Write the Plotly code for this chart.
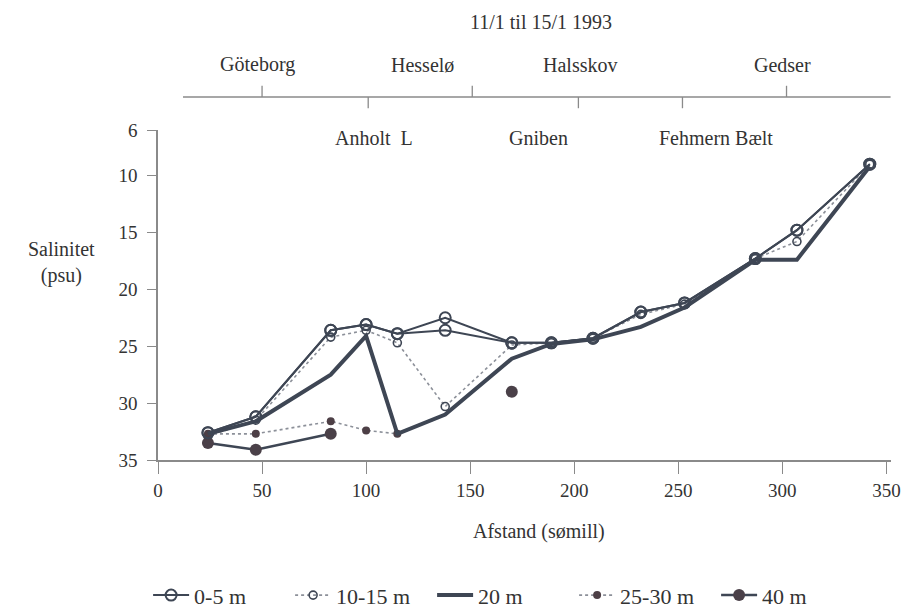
import plotly.graph_objects as go

# ---------------- data ----------------
dist = [24, 47, 83, 100, 115, 138, 170, 189, 209, 232, 253, 287, 307, 342]

sal_0m = [32.6, 31.2, 23.6, 23.1, 23.9, 22.5, 24.7, 24.7, 24.3, 22.0, 21.2, 17.3, 14.8, 9.0]
sal_5m = [32.6, 31.2, 23.6, 23.1, 23.9, 23.6, 24.7, 24.7, 24.3, 22.0, 21.2, 17.3, 14.8, 9.0]
sal_10_15 = [32.9, 31.5, 24.2, 23.6, 24.7, 30.3, 24.9, 24.7, 24.3, 22.2, 21.3, 17.3, 15.8, 9.0]
sal_20 = [32.7, 31.6, 27.5, 24.1, 32.7, 31.0, 26.1, 24.8, 24.4, 23.3, 21.6, 17.4, 17.4, 9.2]
sal_25_30 = [32.7, 32.7, 31.6, 32.4, 32.7, None, None, None, None, None, None, None, None, None]
sal_40 = [33.5, 34.1, 32.7, None, None, None, 29.0, None, None, None, None, None, None, None]

series_names = ["0-5 m", "10-15 m", "20 m", "25-30 m", "40 m"]

x_ticks = [0, 50, 100, 150, 200, 250, 300, 350]
y_ticks = [6, 10, 15, 20, 25, 30, 35]

# stations on the top scale
top_line_span = [12, 352]
top_tick_x = [50, 101, 151, 202, 252, 302]
top_tick_up = [True, False, True, False, False, True]
upper_names = ["Göteborg", "Hesselø", "Halsskov", "Gedser"]
upper_x = [48, 127, 203, 300]
lower_names = ["Anholt  L", "Gniben", "Fehmern Bælt"]
lower_x = [104, 183, 268]

title_text = "11/1 til 15/1 1993"
x_title = "Afstand (sømill)"
y_title = "Salinitet<br>(psu)"

# ---------------- styles ----------------
INK = "#3e4654"
DOT = "#8c9099"
AXIS = "#8a8a8a"
TXT = "#333333"
FONT = "Liberation Serif"

fig = go.Figure()

fig.add_trace(go.Scatter(
    x=dist, y=sal_10_15, name=series_names[1], mode="lines+markers", legendrank=2,
    line=dict(color=DOT, width=1.6, dash="dot"),
    marker=dict(symbol="circle-open", size=8, color=INK, line=dict(width=1.6)),
))
fig.add_trace(go.Scatter(
    x=dist, y=sal_25_30, name=series_names[3], mode="lines+markers", legendrank=4,
    line=dict(color=DOT, width=1.6, dash="dot"),
    marker=dict(symbol="circle", size=8, color="#4d3f46"),
))
fig.add_trace(go.Scatter(
    x=dist, y=sal_20, name=series_names[2], mode="lines", legendrank=3,
    line=dict(color=INK, width=4),
))
fig.add_trace(go.Scatter(
    x=dist, y=sal_40, name=series_names[4], mode="lines+markers", legendrank=5,
    line=dict(color=INK, width=2.5),
    marker=dict(symbol="circle", size=12, color="#4a4048"),
))
fig.add_trace(go.Scatter(
    x=dist, y=sal_5m, name=series_names[0], mode="lines+markers", showlegend=False,
    line=dict(color=INK, width=2),
    marker=dict(symbol="circle-open", size=11, color=INK, line=dict(width=2)),
))
fig.add_trace(go.Scatter(
    x=dist, y=sal_0m, name=series_names[0], mode="lines+markers", legendrank=1,
    line=dict(color=INK, width=2),
    marker=dict(symbol="circle-open", size=11, color=INK, line=dict(width=2)),
))

# ---------------- top station scale ----------------
LINE_Y = 1.10
TICK_L = 0.034
shapes = [dict(type="line", xref="x", yref="paper",
               x0=top_line_span[0], x1=top_line_span[1], y0=LINE_Y, y1=LINE_Y,
               line=dict(color=AXIS, width=1.5))]
for tx, up in zip(top_tick_x, top_tick_up):
    shapes.append(dict(type="line", xref="x", yref="paper", x0=tx, x1=tx,
                       y0=LINE_Y, y1=LINE_Y + (TICK_L if up else -TICK_L),
                       line=dict(color=AXIS, width=1.3)))


def label(text, x, y, xref, size=20):
    return dict(text=text, x=x, y=y, xref=xref, yref="paper", showarrow=False,
                xanchor="center", yanchor="middle",
                font=dict(family=FONT, size=size, color=TXT))


annotations = []
for nm, xx in zip(upper_names, upper_x):
    annotations.append(label(nm, xx, 1.197, "x"))
for nm, xx in zip(lower_names, lower_x):
    annotations.append(label(nm, xx, 0.976, "x"))
annotations.append(label(title_text, 0.523, 1.327, "paper"))
annotations.append(label(x_title, 0.52, -0.218, "paper"))
annotations.append(label(y_title, -0.131, 0.60, "paper", size=20))

fig.update_layout(
    width=905, height=613,
    margin=dict(l=158, r=14, t=130, b=153, autoexpand=False),
    paper_bgcolor="white", plot_bgcolor="white",
    showlegend=True,
    legend=dict(orientation="h", x=-0.0135, xanchor="left", y=-0.41, yanchor="middle",
                font=dict(family=FONT, size=22, color=TXT),
                entrywidth=91, itemwidth=36, bgcolor="rgba(0,0,0,0)"),
    shapes=shapes, annotations=annotations,
    xaxis=dict(range=[0, 352.2], tickvals=x_ticks, ticks="outside", ticklen=12,
               tickcolor=AXIS, showline=True, linecolor=AXIS, linewidth=1.5,
               showgrid=False, zeroline=False, ticklabeloverflow="allow",
               tickfont=dict(family=FONT, size=19, color=TXT)),
    yaxis=dict(range=[35, 6], tickvals=y_ticks, ticks="outside", ticklen=9,
               tickcolor=AXIS, showline=True, linecolor=AXIS, linewidth=1.5,
               showgrid=False, zeroline=False, ticklabelstandoff=6,
               tickfont=dict(family=FONT, size=19, color=TXT)),
)

fig.write_html("out.html")
